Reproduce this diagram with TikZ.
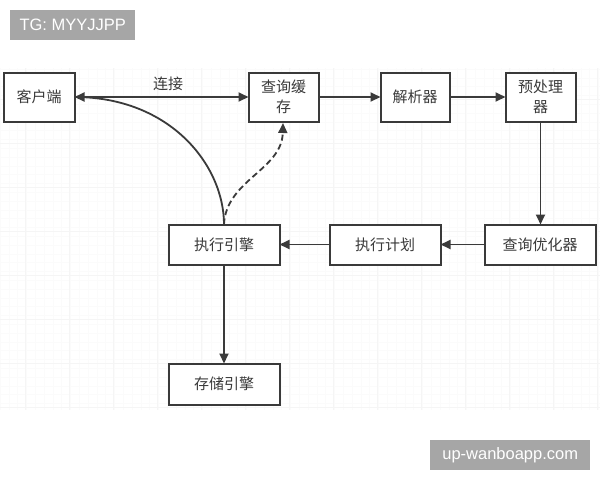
\documentclass[tikz,border=0pt]{standalone}
\usepackage{fontspec}
\setmainfont{Liberation Sans}
\newfontfamily\cjk{Noto Sans CJK SC}
\usetikzlibrary{arrows.meta}
\definecolor{ink}{HTML}{3A3A3A}
\definecolor{tagbg}{HTML}{A6A6A6}
\tikzset{
  box/.style={draw=ink,line width=2pt,fill=white,inner sep=0pt,outer sep=0pt,text=ink,font=\cjk\fontsize{15}{19.5}\selectfont,align=center,anchor=north west},
  conn/.style={draw=ink,line width=1.8pt,-{Triangle[length=10pt,width=9pt]}},
  tag/.style={fill=tagbg,text=white,inner sep=0pt,anchor=north west,font=\fontsize{16.5}{19}\selectfont}
}
\begin{document}
\begin{tikzpicture}[x=1pt,y=-1pt]
\useasboundingbox (0,0) rectangle (600,480);
\fill[white] (0,0) rectangle (600,480);
% faint grid
\foreach \i in {0,...,68} {\draw[black!1.5,line width=0.5pt] (\i*8.8,68) -- (\i*8.8,410);}
\foreach \j in {0,...,38} {\draw[black!1.5,line width=0.5pt] (0,69+\j*8.8) -- (600,69+\j*8.8);}
\foreach \i in {0,...,13} {\draw[black!4,line width=0.7pt] (25+\i*44,68) -- (25+\i*44,410);}
\foreach \j in {0,...,7} {\draw[black!4,line width=0.7pt] (0,99+\j*44) -- (600,99+\j*44);}
% tags
\node[tag,minimum width=125pt,minimum height=30pt] (tg) at (10,10) {TG: MYYJJPP};
\node[tag,minimum width=160pt,minimum height=30pt] (site) at (430,440) {up-wanboapp.com};
% nodes
\node[box,minimum width=71pt,minimum height=49pt] (client) at (3.5,72.5) {客户端};
\node[box,minimum width=70pt,minimum height=49pt] (cache) at (248.5,72.5) {查询缓\\存};
\node[box,minimum width=69pt,minimum height=49pt] (parser) at (380.5,72.5) {解析器};
\node[box,minimum width=70pt,minimum height=49pt] (pre) at (505.5,72.5) {预处理\\器};
\node[box,minimum width=111pt,minimum height=40pt] (opt) at (484.5,224.5) {查询优化器};
\node[box,minimum width=111pt,minimum height=40pt] (plan) at (329.5,224.5) {执行计划};
\node[box,minimum width=111pt,minimum height=40pt] (exec) at (168.5,224.5) {执行引擎};
\node[box,minimum width=111pt,minimum height=41pt] (store) at (168.5,363.5) {存储引擎};
\node[text=ink,inner sep=0pt,font=\cjk\fontsize{15}{17}\selectfont] (conn) at (168,84) {连接};
% connectors
\draw[conn,{Triangle[length=10pt,width=9pt]}-{Triangle[length=10pt,width=9pt]}] (client.east) -- (cache.west);
\draw[conn] (cache.east) -- (parser.west);
\draw[conn] (parser.east) -- (pre.west);
\draw[conn] (pre.south) -- (opt.north -| pre.south);
\draw[conn] (opt.west) -- (plan.east);
\draw[conn] (plan.west) -- (exec.east);
\draw[conn] (exec.south) -- (store.north);
\draw[conn,-] (exec.north) .. controls (224,165) and (170,97) .. (client.east);
\draw[conn,dashed,dash pattern=on 6pt off 3.5pt] (exec.north) .. controls (226,180) and (282,170) .. (283,123);
\end{tikzpicture}
\end{document}
